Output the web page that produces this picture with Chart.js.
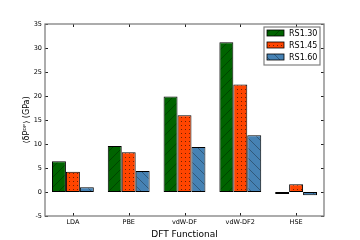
<!DOCTYPE html>
<html>
<head>
<meta charset="utf-8">
<script src="https://cdn.jsdelivr.net/npm/chart.js@4"></script>
<style>
  html, body { margin: 0; padding: 0; background: #fff; }
  #box { width: 360px; height: 240px; }
</style>
</head>
<body>
<div id="box"><canvas id="graphe"></canvas></div>
<script>
// Données
const FONCTIONNELLES = ['LDA', 'PBE', 'vdW-DF', 'vdW-DF2', 'HSE'];
const RS130 = [6.4, 9.6, 19.9, 31.2, -0.4];
const RS145 = [4.2, 8.3, 16.0, 22.4, 1.6];
const RS160 = [1.0, 4.4, 9.4, 11.8, -0.7];
const TICKS_Y = [-5, 0, 5, 10, 15, 20, 25, 30, 35];

const POLICE = '"DejaVu Sans", sans-serif';

// ── Motifs de hachures ──
function motif(fond, type) {
    const c = document.createElement('canvas');
    const n = type === 'points' ? 4 : 10;
    c.width = c.height = n;
    const g = c.getContext('2d');
    g.fillStyle = fond;
    g.fillRect(0, 0, n, n);
    g.strokeStyle = 'rgba(0,0,0,0.45)';
    g.fillStyle = 'rgba(0,0,0,0.55)';
    g.lineWidth = 0.7;
    if (type === 'points') {
        g.fillRect(1, 1, 1, 1);
    } else {
        g.beginPath();
        if (type === '/') {
            g.moveTo(-1, n + 1); g.lineTo(n + 1, -1);
        } else {
            g.moveTo(-1, -1); g.lineTo(n + 1, n + 1);
        }
        g.stroke();
    }
    return g.createPattern(c, 'repeat');
}

const series = [
    { label: 'RS1.30', data: RS130, backgroundColor: motif('#006400', '/') },
    { label: 'RS1.45', data: RS145, backgroundColor: motif('#ff4500', 'points') },
    { label: 'RS1.60', data: RS160, backgroundColor: motif('#4682b4', '\\') }
];

// ── Cadre, graduations et légende façon matplotlib ──
const cadre = {
    id: 'cadre',
    afterDraw(chart) {
        const { ctx, chartArea: a, scales } = chart;
        ctx.save();
        ctx.strokeStyle = '#222';
        ctx.lineWidth = 1;
        ctx.beginPath();
        TICKS_Y.forEach(v => {
            const y = Math.round(scales.y.getPixelForValue(v)) + 0.5;
            ctx.moveTo(a.left, y); ctx.lineTo(a.left + 3, y);
            ctx.moveTo(a.right, y); ctx.lineTo(a.right - 3, y);
        });
        FONCTIONNELLES.forEach((_, i) => {
            const x = Math.round(scales.x.getPixelForValue(i)) + 0.5;
            ctx.moveTo(x, a.bottom); ctx.lineTo(x, a.bottom - 3);
            ctx.moveTo(x, a.top); ctx.lineTo(x, a.top + 3);
        });
        ctx.stroke();

        ctx.strokeStyle = '#808080';
        ctx.lineWidth = 1.3;
        ctx.strokeRect(a.left, a.top, a.right - a.left, a.bottom - a.top);

        // légende
        const lx = 264, ly = 27, lw = 56, lh = 38;
        ctx.fillStyle = '#fff';
        ctx.fillRect(lx, ly, lw, lh);
        ctx.strokeStyle = '#808080';
        ctx.lineWidth = 1.2;
        ctx.strokeRect(lx, ly, lw, lh);
        ctx.font = '8px ' + POLICE;
        ctx.textBaseline = 'middle';
        chart.data.datasets.forEach((d, i) => {
            const yy = ly + 6 + i * 12;
            ctx.fillStyle = d.backgroundColor;
            ctx.fillRect(lx + 3, yy - 3, 17, 6);
            ctx.strokeStyle = '#000';
            ctx.lineWidth = 0.8;
            ctx.strokeRect(lx + 3, yy - 3, 17, 6);
            ctx.fillStyle = '#000';
            ctx.fillText(d.label, lx + 25, yy + 0.5);
        });
        ctx.restore();
    }
};

new Chart(document.getElementById('graphe'), {
    type: 'bar',
    data: {
        labels: FONCTIONNELLES,
        datasets: series.map(s => ({
            ...s,
            borderColor: '#000',
            borderWidth: 1,
            borderSkipped: false,
            categoryPercentage: 0.75,
            barPercentage: 1.0
        }))
    },
    options: {
        responsive: true,
        maintainAspectRatio: false,
        animation: false,
        devicePixelRatio: 1,
        layout: { padding: { left: 0, top: 24, right: 36, bottom: 0 } },
        plugins: {
            legend: { display: false },
            tooltip: { enabled: false }
        },
        scales: {
            x: {
                grid: { display: false, drawTicks: false },
                border: { display: false },
                ticks: { color: '#000', font: { family: POLICE, size: 6.5 }, padding: 2 },
                title: {
                    display: true, text: 'DFT Functional', color: '#000',
                    font: { family: POLICE, size: 9 }, padding: { top: 1, bottom: 0 }
                },
                afterFit: s => { s.height = 24; }
            },
            y: {
                min: -5,
                max: 35,
                grid: { display: false, drawTicks: false },
                border: { display: false },
                afterBuildTicks: s => { s.ticks = TICKS_Y.map(v => ({ value: v })); },
                ticks: { color: '#000', font: { family: POLICE, size: 6.5 }, padding: 3 },
                title: {
                    display: true, text: '⟨δPᴰᴾ⟩ (GPa)', color: '#000',
                    font: { family: POLICE, size: 8 }, padding: { top: 22, bottom: 0 }
                },
                afterFit: s => { s.width = 45; }
            }
        }
    },
    plugins: [cadre]
});
</script>
</body>
</html>
